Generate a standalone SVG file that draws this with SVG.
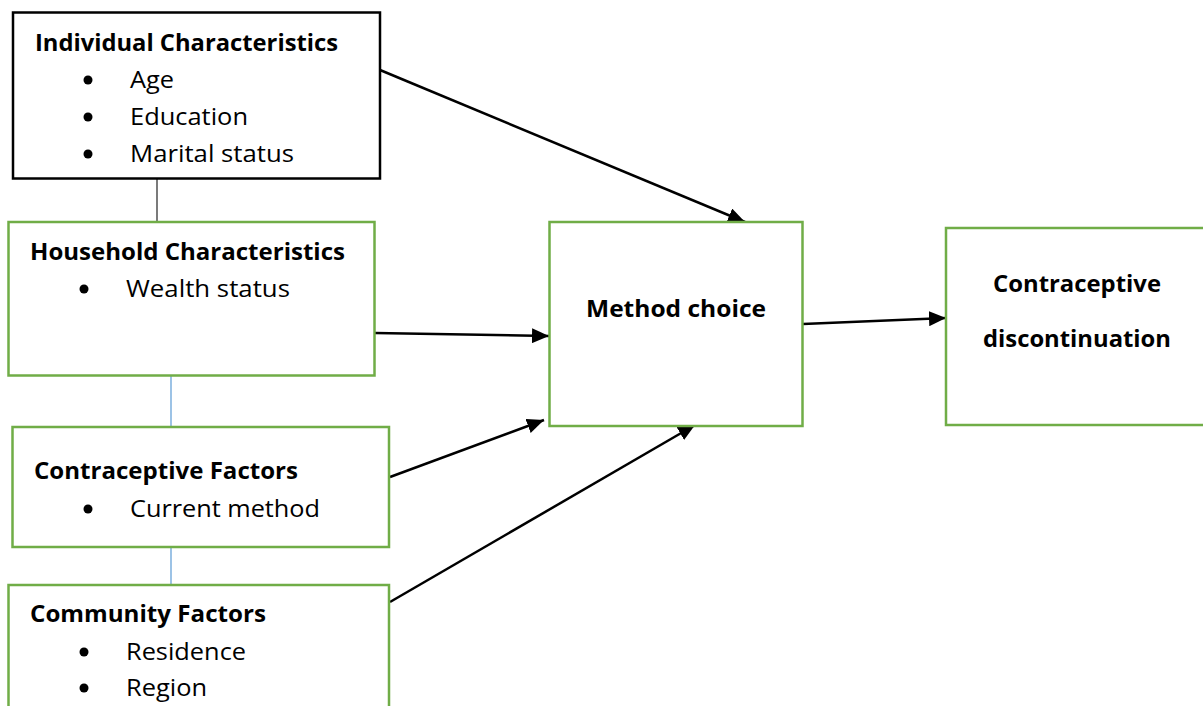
<svg xmlns="http://www.w3.org/2000/svg" width="1203" height="706" viewBox="0 0 1203 706">
<defs>
<style>
.box{fill:#fff;stroke:#70AD47;stroke-width:2.5}
.boxk{fill:#fff;stroke:#000;stroke-width:2.5}
.b{font-family:"Open Sans","Liberation Sans",sans-serif;font-weight:bold;font-size:23px;fill:#000}
.r{font-family:"Open Sans","Liberation Sans",sans-serif;font-size:23px;fill:#000}
.arr{stroke:#000;stroke-width:2.5;fill:none;marker-end:url(#ah)}
.dot{fill:#000}
</style>
<marker id="ah" markerUnits="userSpaceOnUse" markerWidth="17" markerHeight="15" refX="17" refY="7.5" orient="auto">
<path d="M0,0 L17,7.5 L0,15 z" fill="#000"/>
</marker>
</defs>
<rect width="1203" height="706" fill="#fff"/>
<g id="connectors">
<line x1="157" y1="179" x2="157" y2="222" stroke="#222" stroke-width="1.2"/>
<line x1="171" y1="376" x2="171" y2="427" stroke="#5B9BD5" stroke-width="1.2"/>
<line x1="171" y1="548" x2="171" y2="585" stroke="#5B9BD5" stroke-width="1.2"/>
<line class="arr" x1="380" y1="70" x2="745" y2="222"/>
<line class="arr" x1="375" y1="333" x2="549" y2="336"/>
<line class="arr" x1="390" y1="477" x2="544" y2="420"/>
<line class="arr" x1="390" y1="602" x2="695" y2="425"/>
<line class="arr" x1="803" y1="324" x2="946" y2="318"/>
</g>
<g id="individual">
<rect class="boxk" x="13" y="12.5" width="367" height="166"/>
<text class="b" x="35" y="51" textLength="303" lengthAdjust="spacingAndGlyphs">Individual Characteristics</text>
<circle class="dot" cx="88" cy="80" r="4.5"/>
<text class="r" x="130" y="88" textLength="44" lengthAdjust="spacingAndGlyphs">Age</text>
<circle class="dot" cx="88" cy="117" r="4.5"/>
<text class="r" x="130" y="125" textLength="118" lengthAdjust="spacingAndGlyphs">Education</text>
<circle class="dot" cx="88" cy="154" r="4.5"/>
<text class="r" x="130" y="162" textLength="164" lengthAdjust="spacingAndGlyphs">Marital status</text>
</g>
<g id="household">
<rect class="box" x="8.5" y="222" width="366" height="153.5"/>
<text class="b" x="30" y="260" textLength="315" lengthAdjust="spacingAndGlyphs">Household Characteristics</text>
<circle class="dot" cx="84" cy="289" r="4.5"/>
<text class="r" x="126" y="297" textLength="164" lengthAdjust="spacingAndGlyphs">Wealth status</text>
</g>
<g id="contraceptive-factors">
<rect class="box" x="12.5" y="427" width="376.5" height="120"/>
<text class="b" x="34" y="479" textLength="264" lengthAdjust="spacingAndGlyphs">Contraceptive Factors</text>
<circle class="dot" cx="88" cy="509" r="4.5"/>
<text class="r" x="130" y="517" textLength="190" lengthAdjust="spacingAndGlyphs">Current method</text>
</g>
<g id="community">
<rect class="box" x="8.5" y="585" width="380.5" height="140"/>
<text class="b" x="30" y="622" textLength="236" lengthAdjust="spacingAndGlyphs">Community Factors</text>
<circle class="dot" cx="84" cy="652" r="4.5"/>
<text class="r" x="126" y="660" textLength="120" lengthAdjust="spacingAndGlyphs">Residence</text>
<circle class="dot" cx="84" cy="688" r="4.5"/>
<text class="r" x="126" y="696" textLength="81" lengthAdjust="spacingAndGlyphs">Region</text>
</g>
<g id="method-choice">
<rect class="box" x="549.5" y="222" width="253" height="204"/>
<text class="b" x="586" y="317" textLength="180" lengthAdjust="spacingAndGlyphs">Method choice</text>
</g>
<g id="discontinuation">
<rect class="box" x="946" y="228" width="270" height="197"/>
<text class="b" x="993" y="292" textLength="168" lengthAdjust="spacingAndGlyphs">Contraceptive</text>
<text class="b" x="983" y="347" textLength="188" lengthAdjust="spacingAndGlyphs">discontinuation</text>
</g>
</svg>
